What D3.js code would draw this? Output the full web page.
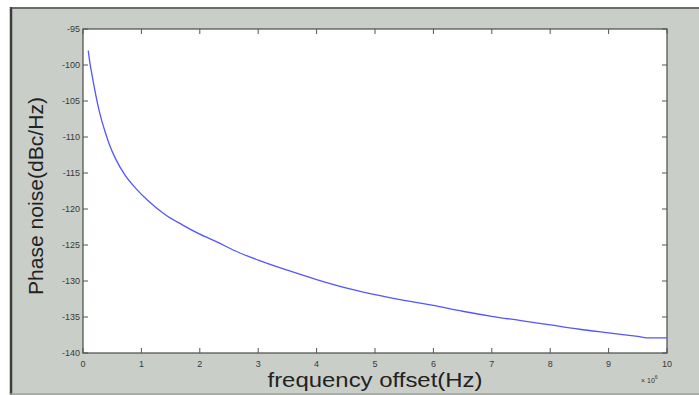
<!DOCTYPE html>
<html lang="en">

<head>
    <meta charset="UTF-8">
    <title>Phase noise</title>
    <script src="https://d3js.org/d3.v7.min.js"></script>
    <style>
        body {
            margin: 0;
            background: #ffffff;
        }

        text {
            font-family: "Liberation Sans", Arial, sans-serif;
        }
    </style>
</head>

<body>
    <script>
        // frequency offset, in units of 10^6 Hz
        const offsets = [0.09, 0.12, 0.15, 0.2, 0.25, 0.3, 0.38, 0.45, 0.55, 0.72, 0.9, 1.12, 1.41, 1.7, 2.0, 2.3,
            2.6, 3.0, 3.5, 4.0, 4.57, 5.0, 5.5, 6.0, 6.5, 7.0, 7.5, 8.0, 8.5, 9.0, 9.5, 9.7, 10.0];
        // phase noise, dBc/Hz
        const noise = [-98.0, -99.8, -101.2, -103.4, -105.4, -107.1, -109.3, -111.0, -112.9, -115.3, -117.1, -118.9,
            -120.8, -122.2, -123.5, -124.6, -125.8, -127.1, -128.5, -129.8, -131.1, -131.9, -132.7, -133.4,
            -134.2, -134.9, -135.5, -136.1, -136.7, -137.2, -137.7, -137.9, -137.9];

        const xTicks = [0, 1, 2, 3, 4, 5, 6, 7, 8, 9, 10];
        const yTicks = [-140, -135, -130, -125, -120, -115, -110, -105, -100, -95];

        const W = 699, H = 395;
        const pL = 83, pR = 667, pT = 29, pB = 353;

        const svg = d3.select("body")
            .append("svg")
            .attr("width", W)
            .attr("height", H);

        // figure background and frame
        svg.append("rect")
            .attr("x", 10).attr("y", 7)
            .attr("width", W - 10).attr("height", H - 7)
            .attr("fill", "#c9cfc8");
        svg.append("line")
            .attr("x1", 11).attr("x2", 11).attr("y1", 7).attr("y2", H)
            .attr("stroke", "#3c3c3c").attr("stroke-width", 2.5);
        svg.append("line")
            .attr("x1", 10).attr("x2", W).attr("y1", 8).attr("y2", 8)
            .attr("stroke", "#4a4a4a").attr("stroke-width", 1.5);
        svg.append("line")
            .attr("x1", 10).attr("x2", W).attr("y1", 394).attr("y2", 394)
            .attr("stroke", "#9ea39e").attr("stroke-width", 1.5);

        const x = d3.scaleLinear().domain([0, 10]).range([pL, pR]);
        const y = d3.scaleLinear().domain([-140, -95]).range([pB, pT]);

        // axes box
        svg.append("rect")
            .attr("x", pL).attr("y", pT)
            .attr("width", pR - pL).attr("height", pB - pT)
            .attr("fill", "#ffffff")
            .attr("stroke", "#4a4a4a")
            .attr("stroke-width", 1.2);

        const tickLen = 5;
        const tickColor = "#555";

        // x ticks, bottom and top
        const xt = svg.append("g");
        xt.selectAll(".xb").data(xTicks).join("line").attr("class", "xb")
            .attr("x1", d => x(d)).attr("x2", d => x(d))
            .attr("y1", pB).attr("y2", pB - tickLen)
            .attr("stroke", tickColor);
        xt.selectAll(".xt").data(xTicks).join("line").attr("class", "xt")
            .attr("x1", d => x(d)).attr("x2", d => x(d))
            .attr("y1", pT).attr("y2", pT + tickLen)
            .attr("stroke", tickColor);
        svg.append("g").selectAll("text").data(xTicks).join("text")
            .attr("x", d => x(d))
            .attr("y", pB + 14)
            .attr("text-anchor", "middle")
            .attr("font-size", 9)
            .attr("fill", "#3a3a3a")
            .text(d => d);

        // y ticks, left and right
        const yt = svg.append("g");
        yt.selectAll(".yl").data(yTicks).join("line").attr("class", "yl")
            .attr("x1", pL).attr("x2", pL + tickLen)
            .attr("y1", d => y(d)).attr("y2", d => y(d))
            .attr("stroke", tickColor);
        yt.selectAll(".yr").data(yTicks).join("line").attr("class", "yr")
            .attr("x1", pR).attr("x2", pR - tickLen)
            .attr("y1", d => y(d)).attr("y2", d => y(d))
            .attr("stroke", tickColor);
        svg.append("g").selectAll("text").data(yTicks).join("text")
            .attr("x", pL - 3)
            .attr("y", d => y(d))
            .attr("dy", "0.35em")
            .attr("text-anchor", "end")
            .attr("font-size", 9)
            .attr("fill", "#3a3a3a")
            .text(d => d);

        // the curve
        const pts = offsets.map((d, i) => [d, noise[i]]);
        svg.append("path")
            .datum(pts)
            .attr("fill", "none")
            .attr("stroke", "#5555ff")
            .attr("stroke-width", 1.3)
            .attr("d", d3.line().x(d => x(d[0])).y(d => y(d[1])).curve(d3.curveMonotoneX));

        // axis labels
        svg.append("text")
            .attr("x", 375)
            .attr("y", 387)
            .attr("text-anchor", "middle")
            .attr("font-size", 20)
            .attr("fill", "#222")
            .attr("textLength", 215)
            .attr("lengthAdjust", "spacingAndGlyphs")
            .text("frequency offset(Hz)");

        svg.append("text")
            .attr("transform", "translate(43,196) rotate(-90)")
            .attr("text-anchor", "middle")
            .attr("font-size", 20)
            .attr("fill", "#222")
            .attr("textLength", 198)
            .attr("lengthAdjust", "spacingAndGlyphs")
            .text("Phase noise(dBc/Hz)");

        // exponent note
        const ex = svg.append("text")
            .attr("x", 641)
            .attr("y", 383)
            .attr("font-size", 7)
            .attr("fill", "#333");
        ex.append("tspan").text("\u00d7 10");
        ex.append("tspan").attr("dy", -4).attr("font-size", 5).text("6");
    </script>
</body>

</html>
